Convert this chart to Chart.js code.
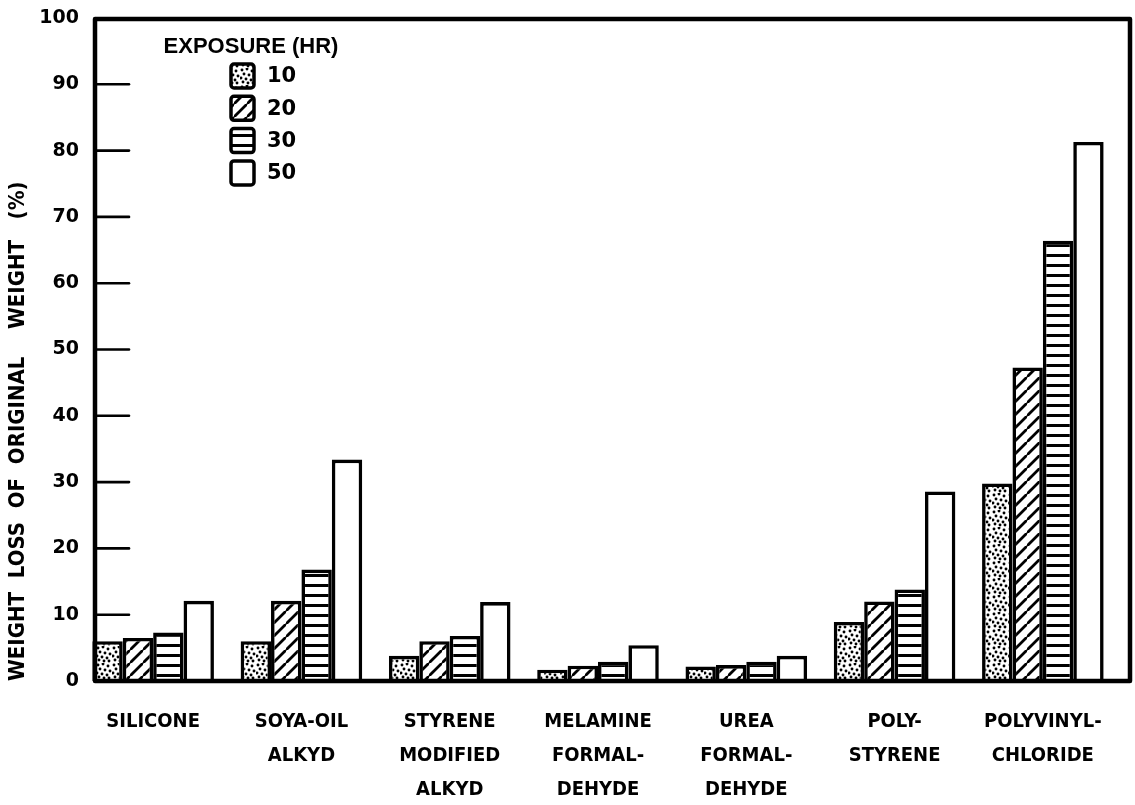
<!DOCTYPE html>
<html>
<head>
<meta charset="utf-8">
<script src="https://cdn.jsdelivr.net/npm/chart.js@4.4.1/dist/chart.umd.min.js"></script>
<style>
html,body{margin:0;padding:0;background:#fff;}
#wrap{width:1135px;height:805px;position:relative;}
</style>
</head>
<body>
<div id="wrap"><canvas id="c" width="1135" height="805"></canvas></div>
<script>
// ---- data ----
const categories = [
  ["SILICONE"],
  ["SOYA-OIL", "ALKYD"],
  ["STYRENE", "MODIFIED", "ALKYD"],
  ["MELAMINE", "FORMAL-", "DEHYDE"],
  ["UREA", "FORMAL-", "DEHYDE"],
  ["POLY-", "STYRENE"],
  ["POLYVINYL-", "CHLORIDE"]
];
const seriesNames = ["10", "20", "30", "50"];
const hr10 = [6.0, 6.0, 3.8, 1.7, 2.2, 8.9, 29.8];
const hr20 = [6.5, 12.1, 6.0, 2.3, 2.4, 12.0, 47.3];
const hr30 = [7.3, 16.8, 6.8, 2.9, 2.9, 13.8, 66.4];
const hr50 = [12.1, 33.4, 11.9, 5.4, 3.8, 28.6, 81.3];
const yTicks = [0, 10, 20, 30, 40, 50, 60, 70, 80, 90, 100];
const legendTitle = "EXPOSURE (HR)";
const yTitle = "WEIGHT  LOSS  OF  ORIGINAL    WEIGHT   (%)";

// ---- patterns ----
function makeTile(w, h, draw) {
  const c = document.createElement('canvas');
  c.width = w; c.height = h;
  const g = c.getContext('2d');
  g.fillStyle = '#fff'; g.fillRect(0, 0, w, h);
  g.fillStyle = '#000'; g.strokeStyle = '#000';
  draw(g);
  return document.createElement('canvas').getContext('2d').createPattern(c, 'repeat');
}
const dotPts = [[2,2],[7,1],[12,3],[4,6],[9,7],[14,8],[1,10],[6,11],[11,12],[3,14],[8,15],[13,15]];
const dotPattern = makeTile(16, 17, g => {
  dotPts.forEach(p => { g.beginPath(); g.arc(p[0], p[1], 1.45, 0, Math.PI * 2); g.fill(); });
});
const diagPattern = makeTile(13, 13, g => {
  g.lineWidth = 2.8;
  g.beginPath();
  g.moveTo(-3, 16); g.lineTo(16, -3);
  g.moveTo(-10, 9); g.lineTo(9, -10);
  g.moveTo(4, 23); g.lineTo(23, 4);
  g.stroke();
});
const hPattern = makeTile(8, 10, g => { g.fillRect(0, 4, 8, 3); });
const fills = [dotPattern, diagPattern, hPattern, '#ffffff'];
const seriesData = [hr10, hr20, hr30, hr50];

const NARROW = "'Liberation Sans Narrow', 'DejaVu Sans Condensed', 'Liberation Sans', sans-serif";
const NUMF = "'DejaVu Sans', sans-serif";

// ---- frame, inner ticks and legend ----
const framePlugin = {
  id: 'frame',
  afterDatasetsDraw(chart) {
    const ctx = chart.ctx, ca = chart.chartArea, ys = chart.scales.y;
    const L = ca.left + 16, R = ca.right + 13, T = ys.getPixelForValue(100) + 1, B = ys.getPixelForValue(0);
    ctx.save();
    ctx.strokeStyle = '#000';
    ctx.lineCap = 'round';
    ctx.lineWidth = 2.6;
    yTicks.forEach(v => {
      if (v === 0 || v === 100) return;
      const y = ys.getPixelForValue(v);
      ctx.beginPath(); ctx.moveTo(L, y); ctx.lineTo(L + 34, y); ctx.stroke();
    });
    ctx.lineWidth = 4.5;
    ctx.lineJoin = 'round';
    ctx.beginPath();
    ctx.moveTo(L, B); ctx.lineTo(L, T); ctx.lineTo(R, T); ctx.lineTo(R, B); ctx.closePath();
    ctx.stroke();

    // legend
    ctx.fillStyle = '#000';
    ctx.font = "bold 22px 'Liberation Sans', Arial, sans-serif";
    ctx.textAlign = 'center'; ctx.textBaseline = 'middle';
    ctx.fillText(legendTitle, 251, 47);
    chart.data.datasets.forEach((ds, i) => {
      const cy = 76 + i * 32.3;
      const bx = 231, bw = 23, bh = 24;
      ctx.beginPath();
      if (ctx.roundRect) ctx.roundRect(bx, cy - bh / 2, bw, bh, 3); else ctx.rect(bx, cy - bh / 2, bw, bh);
      ctx.fillStyle = ds.backgroundColor;
      ctx.fill();
      ctx.lineWidth = 3.5;
      ctx.stroke();
      ctx.fillStyle = '#000';
      ctx.font = "bold 21px " + NUMF;
      ctx.textAlign = 'left';
      ctx.fillText(ds.label, 267, cy + 1);
    });
    ctx.restore();
  }
};

const chart = new Chart(document.getElementById('c'), {
  type: 'bar',
  data: {
    labels: categories,
    datasets: seriesNames.map((name, i) => ({
      label: name,
      data: seriesData[i],
      backgroundColor: fills[i],
      borderColor: '#000',
      borderWidth: 3.6,
      borderSkipped: 'start',
      categoryPercentage: 0.82,
      barPercentage: 1.0
    }))
  },
  options: {
    responsive: false,
    animation: false,
    devicePixelRatio: 1,
    layout: { padding: { left: 0, right: 18, top: 18, bottom: 0 } },
    plugins: {
      legend: { display: false },
      tooltip: { enabled: false },
      title: { display: false }
    },
    scales: {
      x: {
        grid: { display: false, drawTicks: false },
        border: { display: false },
        ticks: {
          color: '#000',
          font: { family: NARROW, weight: 'bold', size: 20, lineHeight: 34 / 20 },
          padding: 24,
          maxRotation: 0,
          autoSkip: false
        },
        afterFit(scale) { scale.height = 124; }
      },
      y: {
        min: 0, max: 100,
        grid: { display: false, drawTicks: false },
        border: { display: false },
        afterBuildTicks(scale) { scale.ticks = yTicks.map(v => ({ value: v })); },
        ticks: {
          color: '#000',
          font: { family: NUMF, weight: 'bold', size: 19 },
          padding: 0
        },
        title: {
          display: true,
          text: yTitle,
          align: 'start',
          color: '#000',
          font: { family: NARROW, weight: 'bold', size: 22, lineHeight: 1.2 },
          padding: { top: 5, bottom: 0 }
        },
        afterFit(scale) { scale.width = 79; }
      }
    }
  },
  plugins: [framePlugin]
});
</script>
</body>
</html>
